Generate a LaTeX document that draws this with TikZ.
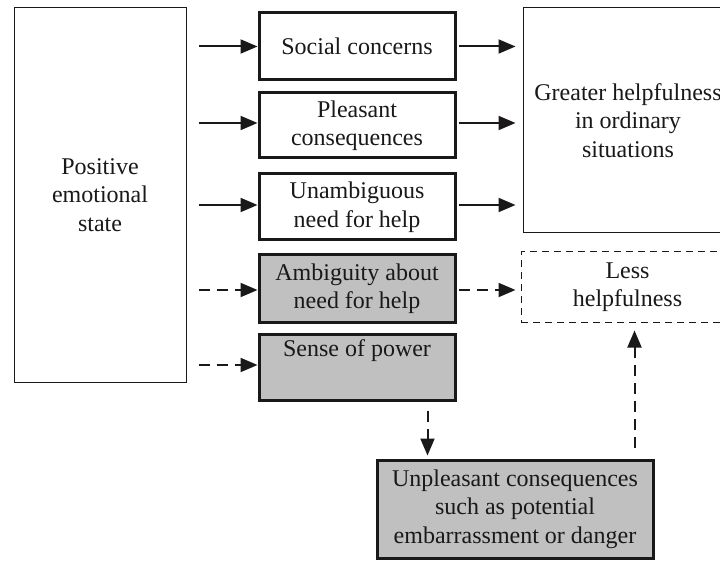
\documentclass[tikz,border=0pt]{standalone}
\usepackage{fontspec}
\setmainfont{Liberation Serif}
\usetikzlibrary{arrows.meta}
\definecolor{ink}{RGB}{26,24,24}
\definecolor{shade}{RGB}{192,192,192}
\tikzset{
  txt/.style={font=\fontsize{24}{28.5}\selectfont, align=center, text=ink, inner sep=0pt},
  thinbox/.style={txt, draw=ink, line width=1pt, rectangle},
  thickbox/.style={txt, draw=ink, line width=3pt, rectangle},
  graybox/.style={thickbox, fill=shade},
  dashbox/.style={txt, draw=ink, line width=1pt, dash pattern=on 7pt off 5pt},
  link/.style={draw=ink, line width=2pt, -{Triangle[length=17pt,width=14pt]}},
  dlink/.style={link, dash pattern=on 11pt off 7pt},
}
\begin{document}
\begin{tikzpicture}[x=1pt, y=-1pt]
  \useasboundingbox (0,0) rectangle (720,561);
  \clip (0,0) rectangle (720,561);
  \fill[white] (0,0) rectangle (720,561);

  % source state
  \node[thinbox, minimum width=172pt, minimum height=374pt] (pos) at (100,195)
    {Positive\\emotional\\state};

  % mediating factors
  \node[thickbox, minimum width=196pt, minimum height=67pt] (soc) at (357,46.5)
    {Social concerns};
  \node[thickbox, minimum width=196pt, minimum height=65pt] (plea) at (357,125.5)
    {Pleasant\\consequences};
  \node[thickbox, minimum width=196pt, minimum height=66pt] (unamb) at (357,207)
    {Unambiguous\\need for help};
  \node[graybox, minimum width=196pt, minimum height=67pt] (amb) at (357,288.5)
    {Ambiguity about\\need for help};
  \node[graybox, minimum width=196pt, minimum height=66pt] (pow) at (357,367)
    {Sense of power\\\strut};

  % outcomes
  \node[thinbox, minimum width=210pt, minimum height=225pt] (great) at (628,120.5)
    {Greater helpfulness\\in ordinary\\situations};
  \node[dashbox, minimum width=213pt, minimum height=70pt] (less) at (627.5,287)
    {Less\\helpfulness};
  \node[graybox, minimum width=276pt, minimum height=98pt] (unp) at (515,509)
    {Unpleasant consequences\\such as potential\\embarrassment or danger};

  % arrows into the factors
  \draw[link, shorten <=12pt] (pos.east |- soc.west) -- (soc.west);
  \draw[link, shorten <=12pt] ([yshift=2.5pt]pos.east |- plea.west) -- ([yshift=2.5pt]plea.west);
  \draw[link, shorten <=12pt] ([yshift=2pt]pos.east |- unamb.west) -- ([yshift=2pt]unamb.west);
  \draw[dlink, shorten <=12pt] ([yshift=-1.5pt]pos.east |- amb.west) -- ([yshift=-1.5pt]amb.west);
  \draw[dlink, shorten <=12pt] ([yshift=2pt]pos.east |- pow.west) -- ([yshift=2pt]pow.west);

  % arrows out of the factors
  \draw[link, shorten <=2pt, shorten >=7pt] (soc.east) -- (soc.east -| great.west);
  \draw[link, shorten <=2pt, shorten >=7pt] ([yshift=2.5pt]plea.east) -- ([yshift=2.5pt]plea.east -| great.west);
  \draw[link, shorten <=2pt, shorten >=7pt] ([yshift=2pt]unamb.east) -- ([yshift=2pt]unamb.east -| great.west);
  \draw[dlink, shorten <=2pt, shorten >=5pt] ([yshift=-1.5pt]amb.east) -- ([yshift=-1.5pt]amb.east -| less.west);

  % power leads to unpleasant consequences, which lead to less helping
  \draw[dlink, shorten <=9pt, shorten >=3pt] ([xshift=-29pt]pow.south east) -- ([xshift=-29pt]pow.south east |- unp.north);
  \draw[dlink, shorten <=11pt, shorten >=8pt] ([xshift=-20pt]unp.north east) -- ([xshift=-20pt]unp.north east |- less.south);
\end{tikzpicture}
\end{document}
